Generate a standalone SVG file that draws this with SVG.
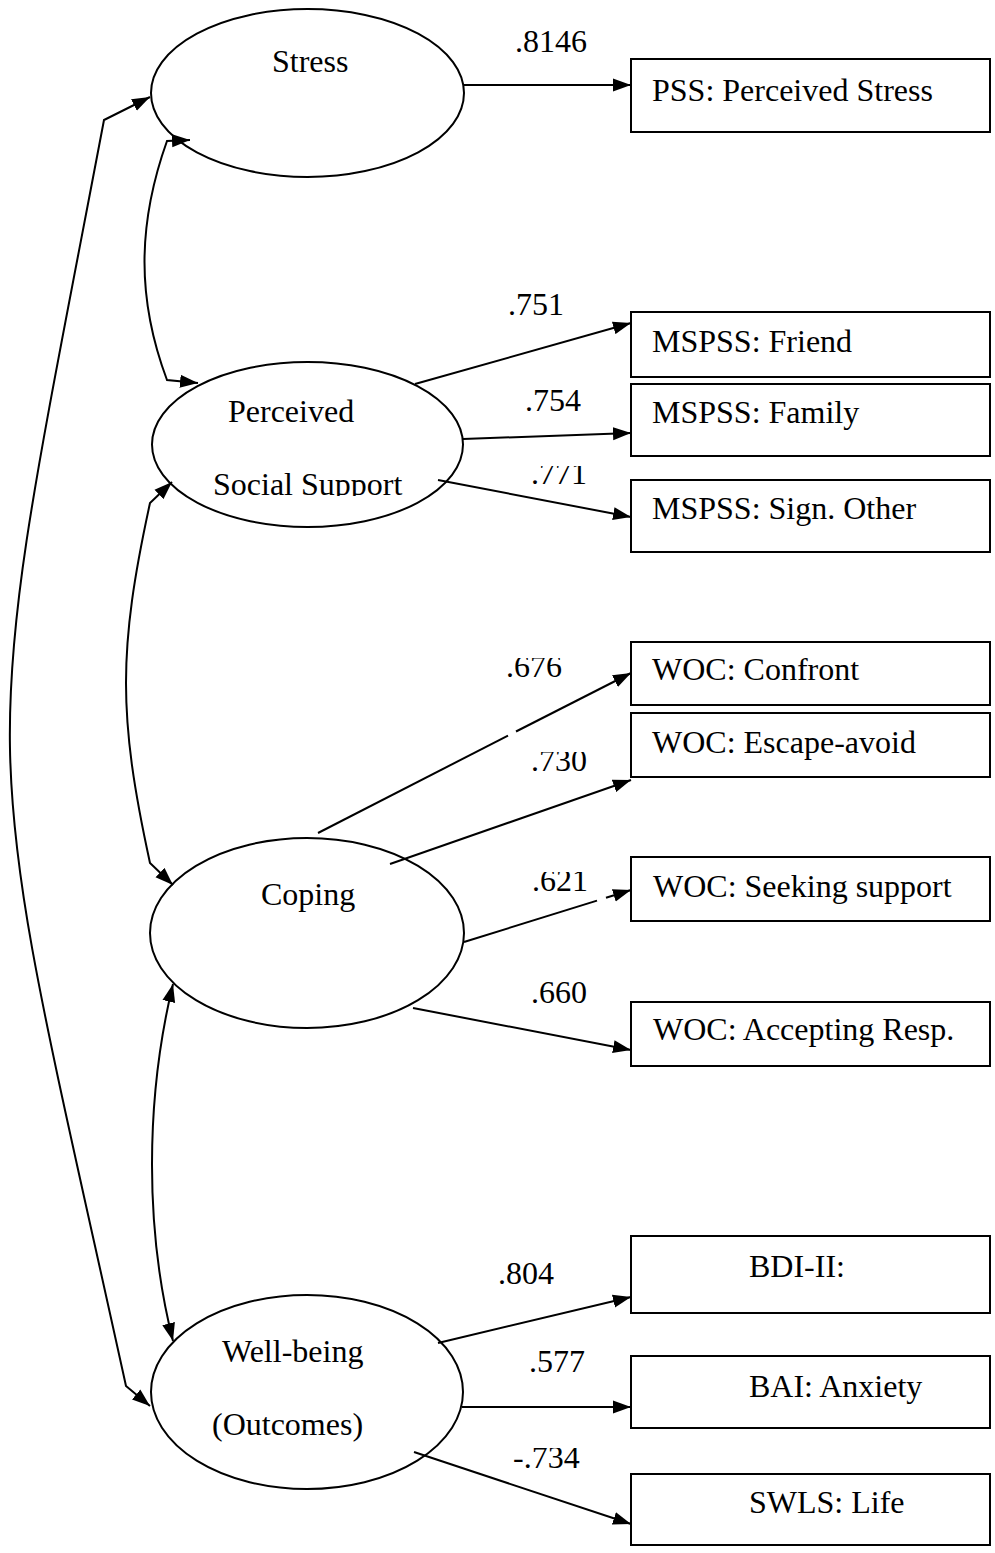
<svg xmlns="http://www.w3.org/2000/svg" width="995" height="1553" viewBox="0 0 995 1553">
<style>
  .node ellipse, .node rect { fill: #fff; stroke: #000; stroke-width: 2; }
  text { font-family: "Liberation Serif", "Times New Roman", serif; font-size: 32px; fill: #000; }
  .conn path, .conn line { fill: none; stroke: #000; stroke-width: 2; }
  .arr { marker-end: url(#ah); }
  .bi { marker-start: url(#ah); marker-end: url(#ah); }
</style>
<defs>
  <marker id="ah" markerUnits="userSpaceOnUse" markerWidth="19" markerHeight="14" refX="18" refY="7" orient="auto-start-reverse" viewBox="0 0 19 14">
    <path d="M0,0.5 L18,7 L0,13.5 z" fill="#000"/>
  </marker>
  <clipPath id="c771" clipPathUnits="userSpaceOnUse"><rect x="500" y="466" width="120" height="40"/></clipPath>
  <clipPath id="c676" clipPathUnits="userSpaceOnUse"><rect x="500" y="658" width="120" height="40"/></clipPath>
  <clipPath id="c730" clipPathUnits="userSpaceOnUse"><rect x="500" y="752" width="120" height="40"/></clipPath>
  <clipPath id="c621" clipPathUnits="userSpaceOnUse"><rect x="500" y="872" width="120" height="40"/></clipPath>
  <clipPath id="c804" clipPathUnits="userSpaceOnUse"><rect x="490" y="1263" width="120" height="40"/></clipPath>
  <clipPath id="c734" clipPathUnits="userSpaceOnUse"><rect x="500" y="1448" width="120" height="40"/></clipPath>
  <clipPath id="cSoc" clipPathUnits="userSpaceOnUse"><rect x="190" y="440" width="240" height="56"/></clipPath>
</defs>
<rect width="995" height="1553" fill="#fff"/>

<g id="stress" class="node">
  <ellipse cx="307.5" cy="93" rx="156.5" ry="84"/>
  <text x="272" y="72">Stress</text>
</g>
<g id="support" class="node">
  <ellipse cx="307.5" cy="444.5" rx="155.5" ry="82.5"/>
  <text x="228" y="422">Perceived</text>
  <text x="213" y="495" clip-path="url(#cSoc)">Social Support</text>
</g>
<g id="coping" class="node">
  <ellipse cx="307" cy="933" rx="157" ry="95"/>
  <text x="261" y="905">Coping</text>
</g>
<g id="wellbeing" class="node">
  <ellipse cx="307" cy="1392" rx="156" ry="97"/>
  <text x="222" y="1362">Well-being</text>
  <text x="212" y="1435">(Outcomes)</text>
</g>

<g id="pss" class="node"><rect x="631" y="59" width="359" height="73"/><text x="652" y="101">PSS: Perceived Stress</text></g>
<g id="friend" class="node"><rect x="631" y="312" width="359" height="65"/><text x="652" y="352">MSPSS: Friend</text></g>
<g id="family" class="node"><rect x="631" y="384" width="359" height="72"/><text x="652" y="423">MSPSS: Family</text></g>
<g id="signother" class="node"><rect x="631" y="480" width="359" height="72"/><text x="652" y="519">MSPSS: Sign. Other</text></g>
<g id="confront" class="node"><rect x="631" y="642" width="359" height="63"/><text x="652" y="680">WOC: Confront</text></g>
<g id="escape" class="node"><rect x="631" y="713" width="359" height="64"/><text x="652" y="753">WOC: Escape-avoid</text></g>
<g id="seeking" class="node"><rect x="631" y="857" width="359" height="64"/><text x="653" y="897">WOC: Seeking support</text></g>
<g id="accepting" class="node"><rect x="631" y="1002" width="359" height="64"/><text x="653" y="1040">WOC: Accepting Resp.</text></g>
<g id="bdi" class="node"><rect x="631" y="1236" width="359" height="77"/><text x="749" y="1277">BDI-II:</text></g>
<g id="bai" class="node"><rect x="631" y="1356" width="359" height="72"/><text x="749" y="1397">BAI: Anxiety</text></g>
<g id="swls" class="node"><rect x="631" y="1474" width="359" height="71"/><text x="749" y="1513">SWLS: Life</text></g>

<g id="connectors" class="conn">
  <path class="bi" d="M150,97 L104,120 C-25,799 -25,699 126,1386 L150,1406"/>
  <path class="bi" d="M190,140 L167,141 C137,225 137,300 167,380 L198,383"/>
  <path class="bi" d="M172,482 L150,503 C118,650 118,716 150,863 L173,885"/>
  <path class="bi" d="M173,984 C145,1100 145,1230 173,1341"/>
  <line class="arr" x1="464" y1="85" x2="631" y2="85"/>
  <line class="arr" x1="415" y1="384" x2="631" y2="323"/>
  <line class="arr" x1="463" y1="439" x2="631" y2="433"/>
  <line class="arr" x1="438" y1="480" x2="631" y2="517"/>
  <line x1="318" y1="833" x2="508" y2="735.6"/>
  <line class="arr" x1="516" y1="731.5" x2="631" y2="673"/>
  <line class="arr" x1="390" y1="864" x2="631" y2="780"/>
  <line x1="464" y1="942" x2="597" y2="900.6"/>
  <line class="arr" x1="606" y1="897.8" x2="631" y2="890"/>
  <line class="arr" x1="413" y1="1008" x2="631" y2="1050"/>
  <line class="arr" x1="438" y1="1343" x2="631" y2="1297"/>
  <line class="arr" x1="462" y1="1407" x2="631" y2="1407"/>
  <line class="arr" x1="414" y1="1452" x2="631" y2="1524"/>
</g>

<g id="labels">
  <text x="515" y="52">.8146</text>
  <text x="508" y="315">.751</text>
  <text x="525" y="411">.754</text>
  <text x="531" y="484" clip-path="url(#c771)">.771</text>
  <text x="506" y="677" clip-path="url(#c676)">.676</text>
  <text x="531" y="771" clip-path="url(#c730)">.730</text>
  <text x="532" y="891" clip-path="url(#c621)">.621</text>
  <text x="531" y="1003">.660</text>
  <text x="498" y="1284" clip-path="url(#c804)">.804</text>
  <text x="529" y="1372">.577</text>
  <text x="513" y="1468" clip-path="url(#c734)">-.734</text>
</g>
</svg>
